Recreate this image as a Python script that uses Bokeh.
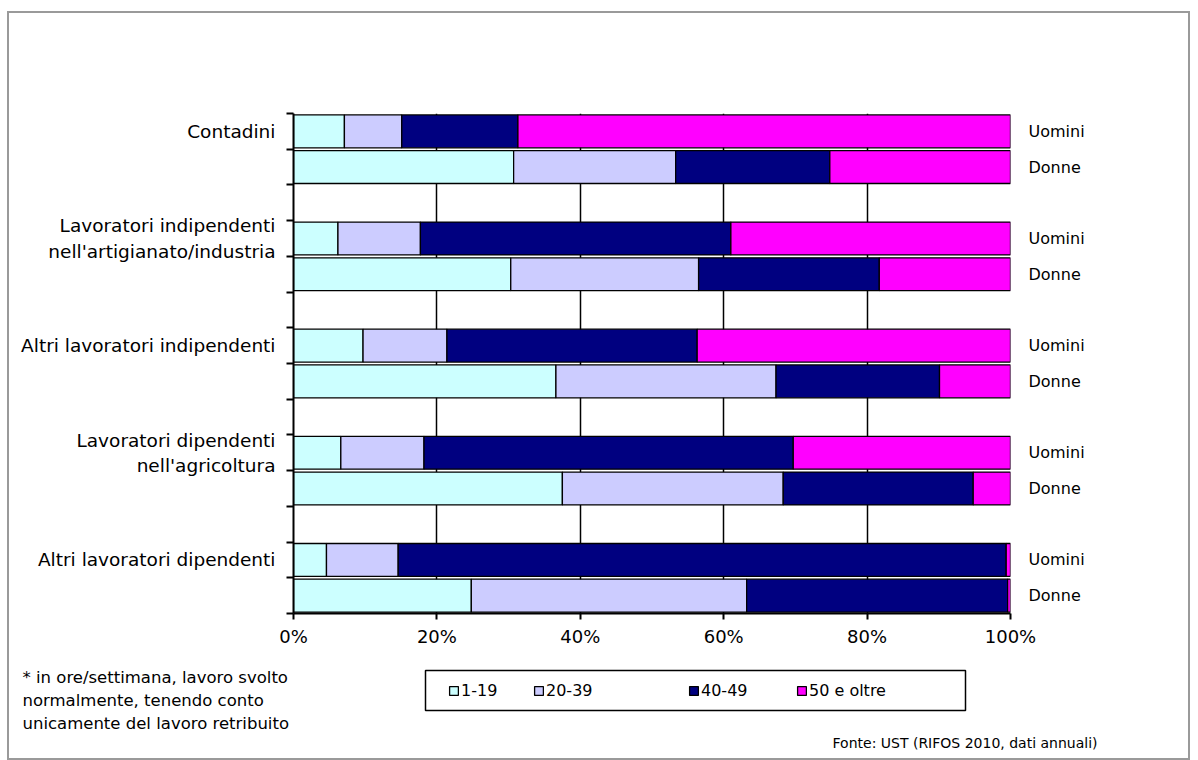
from bokeh.plotting import figure
from bokeh.layouts import column, row
from bokeh.models import (ColumnDataSource, FixedTicker, Label, Legend, LegendItem,
                          BoxAnnotation, Grid, Range1d, LinearAxis)
from bokeh.embed import file_html
from bokeh.resources import INLINE

# ---------------- data ----------------
groups = ["Contadini",
          "Lavoratori indipendenti\nnell'artigianato/industria",
          "Altri lavoratori indipendenti",
          "Lavoratori dipendenti\nnell'agricoltura",
          "Altri lavoratori dipendenti"]
sexes = ["Uomini", "Donne"]
series = ["1-19", "20-39", "40-49", "50 e oltre"]
colors = ["#CCFFFF", "#CCCCFF", "#000080", "#FF00FF"]

# Uomini (% per class of weekly hours)
u_1_19 = [7.1, 6.2, 9.7, 6.6, 4.6]
u_20_39 = [8.0, 11.5, 11.7, 11.6, 10.0]
u_40_49 = [16.2, 43.3, 34.9, 51.5, 84.8]
u_50 = [68.7, 39.0, 43.7, 30.3, 0.6]
# Donne
d_1_19 = [30.7, 30.3, 36.6, 37.5, 24.8]
d_20_39 = [22.6, 26.2, 30.7, 30.8, 38.4]
d_40_49 = [21.5, 25.2, 22.8, 26.5, 36.4]
d_50 = [25.2, 18.3, 9.9, 5.2, 0.4]

x_ticks = [0, 20, 40, 60, 80, 100]
x_tick_labels = ["0%", "20%", "40%", "60%", "80%", "100%"]

footnote = ["* in ore/settimana, lavoro svolto",
            "normalmente, tenendo conto",
            "unicamente del lavoro retribuito"]
source_text = "Fonte: UST (RIFOS 2010, dati annuali)"

# ---------------- layout constants (page pixels) ----------------
FONT = "DejaVu Sans"
BX, BY, BW = 7, 11, 2            # outer grey frame
CX, CY = BX + BW, BY + BW        # content origin
X0, X100, YTOP, YBOT = 293, 1010, 113, 613   # plot area
CONTENT_W = 1190 - BW - CX
MAIN_H = 642
BOT_H = 760 - BW - CY - MAIN_H
n_slots = 3 * len(groups) - 1

# ---------------- main chart ----------------
p = figure(width=CONTENT_W, height=MAIN_H, x_range=Range1d(0, 100),
           y_range=Range1d(0, n_slots), output_backend="svg", toolbar_location=None,
           min_border_left=X0 - CX, min_border_top=YTOP - CY,
           min_border_right=CONTENT_W - (X0 - CX) - (X100 - X0),
           min_border_bottom=MAIN_H - (YBOT - CY))
p.outline_line_color = None

men = [u_1_19, u_20_39, u_40_49, u_50]
women = [d_1_19, d_20_39, d_40_49, d_50]

ys, row_labels = [], []
for g in range(len(groups)):
    for k in range(len(sexes)):
        ys.append(n_slots - (3 * g + k) - 0.5)
        row_labels.append(sexes[k])

sources = []
cum = [0.0] * len(ys)
for i, s in enumerate(series):
    vals = []
    for g in range(len(groups)):
        vals.append(men[i][g])
        vals.append(women[i][g])
    left = cum[:]
    right = [a + b for a, b in zip(left, vals)]
    cum = right
    src = ColumnDataSource(dict(y=ys, left=left, right=right))
    sources.append(src)
    p.hbar(y="y", left="left", right="right", height=0.92, source=src,
           fill_color=colors[i], line_color="black", line_width=1.3)

# x axis
p.xaxis.ticker = FixedTicker(ticks=x_ticks)
p.xaxis.major_label_overrides = dict(zip(x_ticks, x_tick_labels))
p.xaxis.major_label_text_font = FONT
p.xaxis.major_label_text_font_size = "18px"
p.xaxis.major_label_text_color = "black"
p.xaxis.axis_line_width = 2
p.xaxis.major_tick_line_width = 2
p.xaxis.major_tick_in = 0
p.xaxis.major_tick_out = 6
p.xaxis.minor_tick_line_color = None
p.xaxis.major_label_standoff = 6

# left axis: category names at group centres, tick marks at slot boundaries
group_y = [n_slots - 3 * g - 0.5 for g in range(len(groups))]
p.yaxis.ticker = FixedTicker(ticks=group_y, minor_ticks=list(range(n_slots + 1)))
p.yaxis.major_label_overrides = dict(zip(group_y, groups))
p.yaxis.major_label_text_font = FONT
p.yaxis.major_label_text_font_size = "18.5px"
p.yaxis.major_label_text_color = "black"
p.yaxis.major_label_standoff = 11
p.yaxis.axis_line_width = 2
p.yaxis.major_tick_line_color = None
p.yaxis.major_tick_in = 0
p.yaxis.major_tick_out = 0
p.yaxis.minor_tick_line_color = "black"
p.yaxis.minor_tick_line_width = 2
p.yaxis.minor_tick_in = 0
p.yaxis.minor_tick_out = 7

# right axis: Uomini / Donne
ry = LinearAxis(ticker=FixedTicker(ticks=ys),
                major_label_overrides=dict(zip(ys, row_labels)),
                axis_line_color=None, major_tick_line_color=None,
                major_tick_in=0, major_tick_out=0,
                minor_tick_line_color=None, minor_tick_in=0, minor_tick_out=0,
                major_label_standoff=18,
                major_label_text_font=FONT, major_label_text_font_size="16px",
                major_label_text_color="black")
p.add_layout(ry, "right")

# grid
p.xgrid.ticker = FixedTicker(ticks=x_ticks[1:-1])
p.xgrid.grid_line_color = "black"
p.xgrid.grid_line_width = 1.5
p.ygrid.visible = False
p.add_layout(Grid(dimension=0, ticker=FixedTicker(ticks=[100]),
                  grid_line_color="#808080", grid_line_width=1.5))

# ---------------- bottom strip: legend, footnote, source ----------------
top_b = CY + MAIN_H
q = figure(width=CONTENT_W, height=BOT_H, x_range=Range1d(CX, CX + CONTENT_W),
           y_range=Range1d(top_b + BOT_H, top_b), output_backend="svg",
           toolbar_location=None, min_border=0, x_axis_location=None,
           y_axis_location=None)
q.grid.visible = False
q.outline_line_color = None

q.add_layout(BoxAnnotation(left=425, right=965, top=670, bottom=710,
                           fill_color=None, fill_alpha=0, line_color="black",
                           line_alpha=1.0, line_width=1.5))
legend_x_px = [448, 533, 688, 796]
for i, s in enumerate(series):
    # legend swatches: same series source, renderer hidden in this strip
    r = q.hbar(y="y", left="left", right="right", height=0.92, source=sources[i],
               fill_color=colors[i], line_color="black", line_width=1.3,
               visible=False)
    lg = Legend(items=[LegendItem(label=s, renderers=[r])],
                location=(legend_x_px[i] - CX, (top_b + BOT_H) - 700),
                orientation="horizontal", padding=0, margin=0, spacing=0,
                border_line_color=None, background_fill_alpha=0,
                inactive_fill_alpha=0, click_policy="none",
                glyph_width=11, glyph_height=11, label_standoff=2,
                label_text_font=FONT, label_text_font_size="16px",
                label_text_color="black")
    q.add_layout(lg)

for i, line in enumerate(footnote):
    q.add_layout(Label(x=22, y=677 + 23 * i, text=line, text_align="left",
                       text_baseline="middle", text_font=FONT,
                       text_font_size="16.5px", text_color="black"))
q.add_layout(Label(x=1097, y=742, text=source_text, text_align="right",
                   text_baseline="middle", text_font=FONT, text_font_size="14px",
                   text_color="black"))

layout = column(p, row(q), spacing=0,
                styles={"border": f"{BW}px solid #9a9a9a", "margin-left": f"{BX}px",
                        "margin-top": f"{BY}px", "background": "white"})

open("out.html", "w").write(file_html(layout, INLINE))
